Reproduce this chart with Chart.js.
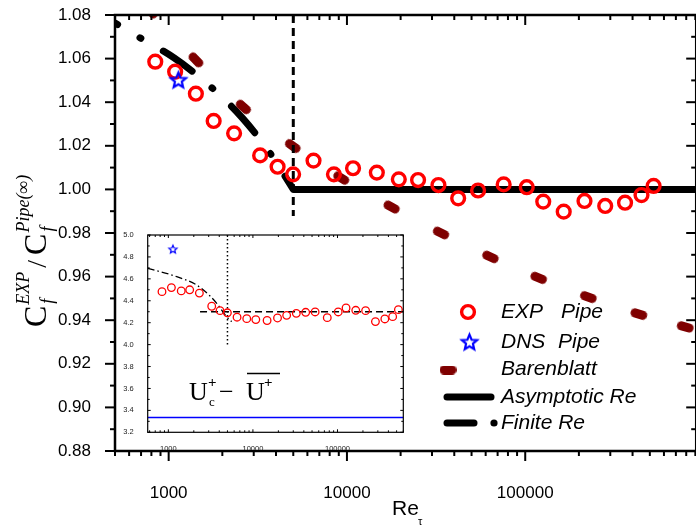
<!DOCTYPE html>
<html><head><meta charset="utf-8">
<script src="https://cdn.jsdelivr.net/npm/chart.js@4"></script>
<style>
html,body{margin:0;padding:0;background:#fff;overflow:hidden;width:696px;height:529px}
#wrap{position:relative;width:696px;height:529px;overflow:hidden;background:#fff}
#main{position:absolute;left:0;top:0}
#inset{position:absolute;left:100px;top:225px}
</style></head><body>
<div id="wrap">
<canvas id="main" width="706" height="529" style="width:706px;height:529px"></canvas>
<canvas id="inset" width="310" height="225" style="width:310px;height:225px"></canvas>
</div>
<script>
// ---------------- data (main chart) ----------------
const expRe = [841,1087,1421,1788,2328,3258,4083,4990,6494,8453,10820,14710,19540,25060,32600,42060,54400,75700,102000,126200,164400,215000,281000,363000,449000,525000];
const expCf = [1.0586,1.0540,1.0439,1.0314,1.0257,1.0156,1.0104,1.0069,1.0132,1.0069,1.0097,1.0077,1.0046,1.0043,1.0020,0.9959,0.9995,1.0023,1.0010,0.9944,0.9898,0.9947,0.9924,0.9939,0.9974,1.0016];
const dnsRe = [1133];
const dnsCf = [1.0502];
const barenRe = [791,1422,2624,4966,9290,17800,33700,63800,119000,226000,434000,790000];
const barenCf = [1.0818,1.0594,1.0378,1.0199,1.0052,0.9919,0.9800,0.9690,0.9594,0.9506,0.9428,0.9369];
const finiteRe = [500,685,1073,1678,2588,3700,5000];
const finiteCf = [1.0763,1.0697,1.0603,1.0479,1.0328,1.0167,1.0000];
const asymRe = [5000,2000000];
const asymCf = [1.0,1.0];
const transRe = [5000,5000];
const transCf = [1.08,0.9878];
const yTickLabels = [0.88,0.90,0.92,0.94,0.96,0.98,1.00,1.02,1.04,1.06,1.08];
const xTickLabels = [1000,10000,100000];

// ---------------- data (inset) ----------------
const insetU = [4.483,4.52,4.49,4.50,4.47,4.35,4.31,4.29,4.25,4.237,4.228,4.22,4.243,4.267,4.285,4.295,4.298,4.246,4.298,4.334,4.313,4.31,4.21,4.234,4.255,4.319];
const insetDnsU = [4.87];
const insetFiniteRe = [570,1256,2162,3111,3733,4807,5610];
const insetFiniteU = [4.696,4.62,4.544,4.444,4.377,4.261,4.21];
const insetAsymRe = [2370,600000];
const insetAsymU = [4.30,4.30];
const insetTransRe = [5000,5000];
const insetTransU = [5.0,4.0];
const insetBlueRe = [570,600000];
const insetBlueU = [3.335,3.335];
const insetYTicks = [3.2,3.4,3.6,3.8,4.0,4.2,4.4,4.6,4.8,5.0];

// ---------------- helpers ----------------
const SANS = 'Arial, "Liberation Sans", sans-serif';
const SERIF = '"Times New Roman", "Liberation Serif", serif';
const pts = (xs, ys) => xs.map((v,i)=>({x:v,y:ys[i]}));
function makePill(len, th, color){
  const c=document.createElement('canvas'); c.width=len; c.height=th;
  const g=c.getContext('2d'); g.strokeStyle=color; g.lineWidth=th; g.lineCap='round';
  g.beginPath(); g.moveTo(th/2,th/2); g.lineTo(len-th/2,th/2); g.stroke(); return c;
}
function starPath(g, cx, cy, R, ratio){
  g.beginPath();
  for(let k=0;k<10;k++){const r=(k%2)?R*ratio:R; const a=-Math.PI/2+k*Math.PI/5;
    const px=cx+r*Math.cos(a), py=cy+r*Math.sin(a); k?g.lineTo(px,py):g.moveTo(px,py);}
  g.closePath();
}
function makeStar(R, lw, color){
  const s=Math.ceil(2*R+lw+4); const c=document.createElement('canvas'); c.width=c.height=s;
  const g=c.getContext('2d'); g.strokeStyle=color; g.lineWidth=lw; g.lineJoin='miter';
  starPath(g,s/2,s/2+R*0.08,R,0.45); g.stroke(); return c;
}
function minorList(lo, hi){ const out=[]; for(let e=2;e<=6;e++){for(let m=1;m<=9;m++){const v=m*Math.pow(10,e); if(v>=lo&&v<=hi) out.push(v);}} return out; }
function drawTicks(chart, o){
  const {ctx, chartArea:a, scales:{x,y}} = chart;
  ctx.save(); ctx.strokeStyle='#000'; ctx.lineCap='butt'; ctx.lineWidth=o.tickW;
  const line=(x0,y0,x1,y1)=>{ctx.beginPath();ctx.moveTo(x0,y0);ctx.lineTo(x1,y1);ctx.stroke();};
  const xs = minorList(x.min, x.max);
  xs.forEach(v=>{ const p=x.getPixelForValue(v); const maj=o.xMajor.includes(v); const L=maj?o.major:o.minor;
    line(p,a.bottom,p,a.bottom+L*o.bottomDir); line(p,a.top,p,a.top+L); });
  o.yAll.forEach(v=>{ const p=y.getPixelForValue(v); const maj=o.yMajor.some(t=>Math.abs(t-v)<1e-6); const L=maj?o.major:o.minor;
    line(a.left,p,a.left-L*o.leftDir,p); line(a.right,p,a.right-L,p); });
  ctx.lineWidth=o.axisW; ctx.strokeRect(a.left,a.top,a.right-a.left,a.bottom-a.top);
  ctx.restore();
}
const fixX = (h)=> (s)=>{ s.height=h; s.paddingLeft=0; s.paddingRight=0; s.paddingTop=0; s.paddingBottom=0; };
const fixY = (w)=> (s)=>{ s.width=w; s.paddingLeft=0; s.paddingRight=0; s.paddingTop=0; s.paddingBottom=0; };

// ---------------- main chart ----------------
const pill = makePill(17, 9, '#7f0000');
const bigStar = makeStar(8, 2.2, '#0000ff');
const yAllMain = []; for(let i=0;i<=20;i++) yAllMain.push(+(0.88+i*0.01).toFixed(2));

function barenRotation(c){
  const i=c.dataIndex, ch=c.chart, xs=ch.scales.x, ys=ch.scales.y;
  const a=Math.max(0,i-1), b=Math.min(barenRe.length-1,i+1);
  const dx=xs.getPixelForValue(barenRe[b])-xs.getPixelForValue(barenRe[a]);
  const dy=ys.getPixelForValue(barenCf[b])-ys.getPixelForValue(barenCf[a]);
  return Math.atan2(dy,dx)*180/Math.PI;
}

const mainDecor = {
  id:'mainDecor',
  afterDraw(chart){
    drawTicks(chart,{tickW:2,axisW:2.5,major:10,minor:5,bottomDir:1,leftDir:1,
      xMajor:xTickLabels,yMajor:yTickLabels,yAll:yAllMain});
    const ctx=chart.ctx;
    ctx.save(); ctx.fillStyle='#000';
    // x title
    ctx.font='21px '+SANS; ctx.textBaseline='alphabetic'; ctx.textAlign='left';
    ctx.fillText('Re',392,515);
    ctx.font='11px '+SANS; ctx.fillText('\u03c4',418,525);
    // y title (rotated)
    ctx.translate(46,327); ctx.rotate(-Math.PI/2);
    let x=0;
    ctx.font='32px '+SERIF; ctx.fillText('C',x,0); x+=ctx.measureText('C').width+1;
    ctx.font='italic 18px '+SERIF; ctx.fillText('f',x+1,7); ctx.fillText('EXP',x,-17); x+=ctx.measureText('EXP').width+4;
    ctx.font='28px '+SERIF; ctx.fillText('/',x,0); x+=ctx.measureText('/').width+5;
    ctx.font='32px '+SERIF; ctx.fillText('C',x,0); x+=ctx.measureText('C').width+1;
    ctx.font='italic 18px '+SERIF; ctx.fillText('f',x+1,7); ctx.fillText('Pipe(\u221e)',x,-17);
    ctx.restore();
    // legend
    ctx.save();
    ctx.fillStyle='#000'; ctx.font='italic 21px '+SANS; ctx.textBaseline='middle'; ctx.textAlign='left';
    ctx.fillText('EXP',501,312); ctx.fillText('Pipe',561,312);
    ctx.fillText('DNS',501,342); ctx.fillText('Pipe',558,342);
    ctx.fillText('Barenblatt',501,369);
    ctx.fillText('Asymptotic Re',501,397);
    ctx.fillText('Finite Re',501,423);
    ctx.strokeStyle='#ff0000'; ctx.lineWidth=3.4; ctx.beginPath(); ctx.arc(468,312,6.4,0,Math.PI*2); ctx.stroke();
    ctx.drawImage(bigStar,469.5-bigStar.width/2,342-bigStar.height/2);
    ctx.drawImage(pill,448-pill.width/2,370-pill.height/2);
    ctx.strokeStyle='#000'; ctx.lineCap='round'; ctx.lineWidth=7;
    ctx.beginPath(); ctx.moveTo(447,397); ctx.lineTo(491,397); ctx.stroke();
    ctx.beginPath(); ctx.moveTo(447,423); ctx.lineTo(474,423); ctx.stroke();
    ctx.beginPath(); ctx.arc(494,423,3.6,0,Math.PI*2); ctx.fillStyle='#000'; ctx.fill();
    ctx.restore();
  }
};

Chart.defaults.font.family = SANS;
Chart.defaults.color = '#000';

new Chart(document.getElementById('main'), {
  type:'scatter',
  data:{datasets:[
    {label:'Asymptotic Re', data:pts(asymRe,asymCf), showLine:true, borderColor:'#000', borderWidth:7, pointRadius:0, order:6, clip:0},
    {label:'Finite Re', data:pts(finiteRe,finiteCf), showLine:true, borderColor:'#000', borderWidth:7, pointRadius:0,
      borderDash:[35,26,1,26], borderDashOffset:32, borderCapStyle:'round', borderJoinStyle:'round', cubicInterpolationMode:'monotone', order:5, clip:0},
    {label:'trans', data:pts(transRe,transCf), showLine:true, borderColor:'#000', borderWidth:3, pointRadius:0, borderDash:[8,5], order:2, clip:0},
    {label:'Barenblatt', data:pts(barenRe,barenCf), pointStyle:pill, pointRotation:barenRotation, pointRadius:8, order:3, clip:0},
    {label:'EXP Pipe', data:pts(expRe,expCf), pointStyle:'circle', pointRadius:6.4, borderWidth:3.4, pointBorderColor:'#ff0000', pointBackgroundColor:'rgba(0,0,0,0)', order:1, clip:0},
    {label:'DNS Pipe', data:pts(dnsRe,dnsCf), pointStyle:bigStar, pointRadius:8, order:0, clip:0}
  ]},
  options:{
    responsive:false, animation:false, events:[], devicePixelRatio:1,
    layout:{padding:{top:15,right:3,left:0,bottom:0}},
    plugins:{legend:{display:false},tooltip:{enabled:false},title:{display:false}},
    scales:{
      x:{type:'logarithmic', min:500, max:910000,
        grid:{display:false}, border:{display:false},
        ticks:{autoSkip:false, maxRotation:0, padding:24, font:{size:17}, color:'#000',
          callback:(v)=> xTickLabels.includes(v) ? String(v) : ''},
        afterFit:fixX(78)},
      y:{type:'linear', min:0.88, max:1.08,
        grid:{display:false}, border:{display:false},
        ticks:{stepSize:0.02, padding:16, font:{size:17}, color:'#000', callback:(v)=>(+v).toFixed(2)},
        afterFit:fixY(115)}
    }
  },
  plugins:[mainDecor]
});

// ---------------- inset chart ----------------
const smallStar = makeStar(4.3, 1.2, '#0000ff');
const yAllInset = []; for(let i=0;i<=18;i++) yAllInset.push(+(3.2+i*0.1).toFixed(1));
const OX=100, OY=225;
const insetDecor = {
  id:'insetDecor',
  afterDraw(chart){
    drawTicks(chart,{tickW:1,axisW:1.2,major:3,minor:2,bottomDir:-1,leftDir:-1,
      xMajor:xTickLabels,yMajor:insetYTicks,yAll:yAllInset});
    const ctx=chart.ctx; ctx.save(); ctx.fillStyle='#000'; ctx.textBaseline='alphabetic';
    ctx.font='26px '+SERIF; ctx.fillText('U',189-OX,400-OY);
    ctx.font='bold 15px '+SERIF; ctx.fillText('+',208-OX,387-OY);
    ctx.font='13px '+SERIF; ctx.fillText('c',209-OX,406-OY);
    ctx.font='26px '+SERIF; ctx.fillText('\u2212',219-OX,400-OY);
    ctx.fillText('U',246-OX,400-OY);
    ctx.font='bold 15px '+SERIF; ctx.fillText('+',264-OX,387-OY);
    ctx.strokeStyle='#000'; ctx.lineWidth=1.5; ctx.beginPath(); ctx.moveTo(247-OX,373.5-OY); ctx.lineTo(280-OX,373.5-OY); ctx.stroke();
    ctx.restore();
  }
};
new Chart(document.getElementById('inset'), {
  type:'scatter',
  data:{datasets:[
    {data:pts(insetBlueRe,insetBlueU), showLine:true, borderColor:'#0000ff', borderWidth:1.5, pointRadius:0, order:6},
    {data:pts(insetTransRe,insetTransU), showLine:true, borderColor:'#000', borderWidth:1.5, borderDash:[1.5,2.5], pointRadius:0, order:5},
    {data:pts(insetAsymRe,insetAsymU), showLine:true, borderColor:'#000', borderWidth:1.4, borderDash:[7,4], pointRadius:0, order:4},
    {data:pts(insetFiniteRe,insetFiniteU), showLine:true, borderColor:'#000', borderWidth:1.3, borderDash:[7,3,1.5,3], pointRadius:0, cubicInterpolationMode:'monotone', order:3},
    {data:pts(expRe,insetU), pointStyle:'circle', pointRadius:3.8, borderWidth:1.3, pointBorderColor:'#ff0000', pointBackgroundColor:'rgba(0,0,0,0)', order:1},
    {data:pts(dnsRe,insetDnsU), pointStyle:smallStar, pointRadius:4, order:0}
  ]},
  options:{
    responsive:false, animation:false, events:[], devicePixelRatio:1,
    layout:{padding:{top:10,right:6.7,left:0,bottom:0}},
    plugins:{legend:{display:false},tooltip:{enabled:false},title:{display:false}},
    scales:{
      x:{type:'logarithmic', min:570, max:600000,
        grid:{display:false}, border:{display:false},
        ticks:{autoSkip:false, maxRotation:0, padding:4, font:{size:7.5}, color:'#222',
          callback:(v)=> xTickLabels.includes(v) ? String(v) : ''},
        afterFit:fixX(17.7)},
      y:{type:'linear', min:3.2, max:5.0,
        grid:{display:false}, border:{display:false},
        ticks:{stepSize:0.2, padding:6, font:{size:7.5}, color:'#222', callback:(v)=>(+v).toFixed(1)},
        afterFit:fixY(47.7)}
    }
  },
  plugins:[insetDecor]
});
</script>
</body></html>
